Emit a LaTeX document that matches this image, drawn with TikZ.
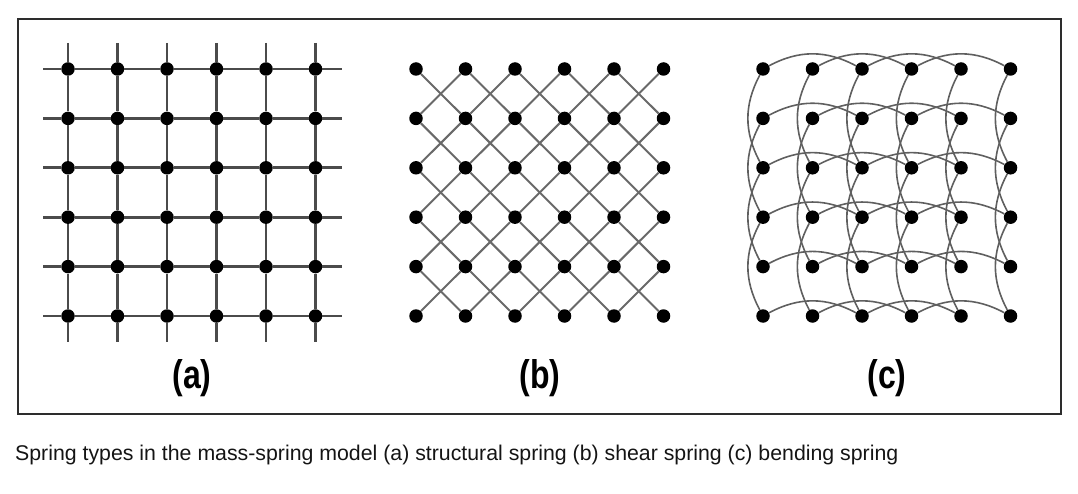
\documentclass[tikz,border=0pt]{standalone}
\usepackage{fontspec}
\setmainfont{Liberation Sans}
\usepackage{tikz}
\usetikzlibrary{calc}
\definecolor{ink}{RGB}{45,45,45}
\definecolor{spr}{RGB}{75,75,75}
\definecolor{shr}{RGB}{105,105,105}
\definecolor{bnd}{RGB}{95,95,95}
\definecolor{captxt}{RGB}{20,20,20}
\tikzset{
  mass/.style={circle,fill=black,inner sep=0pt,minimum size=13.5pt},
  struct/.style={draw=spr,line width=2.8pt},
  shear/.style={draw=shr,line width=2pt},
  bendsp/.style={draw=bnd,line width=1.6pt},
  tag/.style={font=\fontsize{40}{40}\selectfont\bfseries,xscale=0.8,anchor=base},
  caption/.style={font=\fontsize{21.3}{24}\selectfont,text=captxt,
    anchor=base west,inner sep=0pt},
}

\begin{document}
\begin{tikzpicture}[x=1pt,y=1pt]
  \useasboundingbox (0,0) rectangle (1078,-494);
  \draw[ink,line width=2pt] (18,-19) rectangle (1061,-414);

  % masses of the three grids
  \foreach \p/\xo in {a/68,b/416,c/763} {
    \foreach \i in {0,...,5} {
      \foreach \j in {0,...,5} {
        \node[mass] (\p-\i-\j) at (\xo+49.5*\i,-69-49.4*\j) {};
      }
    }
  }

  % (a) structural springs
  \foreach \k in {0,...,5} {
    \coordinate (aW-\k) at ($(a-0-\k)+(-25,0)$);
    \coordinate (aE-\k) at ($(a-5-\k)+(26,0)$);
    \coordinate (aN-\k) at ($(a-\k-0)+(0,26)$);
    \coordinate (aS-\k) at ($(a-\k-5)+(0,-26)$);
    \draw[struct] (aW-\k) -- (a-0-\k);
    \draw[struct] (a-5-\k) -- (aE-\k);
    \draw[struct] (aN-\k) -- (a-\k-0);
    \draw[struct] (a-\k-5) -- (aS-\k);
  }
  \foreach \i [evaluate=\i as \n using int(\i+1)] in {0,...,4} {
    \foreach \k in {0,...,5} {
      \draw[struct] (a-\i-\k) -- (a-\n-\k);
      \draw[struct] (a-\k-\i) -- (a-\k-\n);
    }
  }

  % (b) shear springs
  \foreach \i [evaluate=\i as \n using int(\i+1)] in {0,...,4} {
    \foreach \j [evaluate=\j as \m using int(\j+1)] in {0,...,4} {
      \draw[shear] (b-\i-\j) -- (b-\n-\m);
      \draw[shear] (b-\n-\j) -- (b-\i-\m);
    }
  }

  % (c) bending springs
  \foreach \i [evaluate=\i as \n using int(\i+2)] in {0,...,3} {
    \foreach \k in {0,...,5} {
      \draw[bendsp] (c-\i-\k) to[bend left=28] (c-\n-\k);
      \draw[bendsp] (c-\k-\i) to[bend right=28] (c-\k-\n);
    }
  }

  \node[tag] (la) at (192,-388) {(a)};
  \node[tag] (lb) at (540,-388) {(b)};
  \node[tag] (lc) at (887,-388) {(c)};

  \node[caption] (cap) at (15,-460)
    {Spring types in the mass-spring model (a) structural spring (b) shear spring (c) bending spring};
\end{tikzpicture}
\end{document}
